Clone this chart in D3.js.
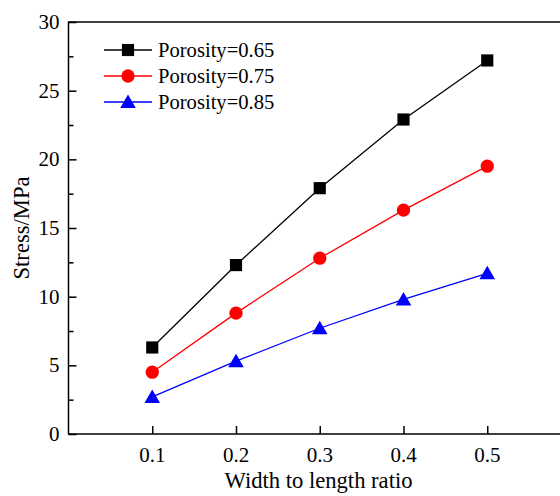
<!DOCTYPE html>
<html>
<head>
<meta charset="utf-8">
<script src="https://cdn.jsdelivr.net/npm/d3@7"></script>
<style>
  body { margin: 0; background: #fff; }
  svg { display: block; }
  text { font-family: "Liberation Serif", "Times New Roman", serif; fill: #000; }
</style>
</head>
<body>
<svg id="chart" width="560" height="496"></svg>
<script>
// Stress vs width-to-length ratio

var ratios = [0.1, 0.2, 0.3, 0.4, 0.5];
var stress065 = [6.3, 12.3, 17.9, 22.9, 27.2];
var stress075 = [4.5, 8.8, 12.8, 16.3, 19.5];
var stress085 = [2.7, 5.3, 7.7, 9.8, 11.7];
var seriesNames = ["Porosity=0.65", "Porosity=0.75", "Porosity=0.85"];
var yTicks = [0, 5, 10, 15, 20, 25, 30];
var yMinorTicks = [2.5, 7.5, 12.5, 17.5, 22.5, 27.5];

var series = [
  { name: seriesNames[0], values: stress065, color: "#000000", shape: d3.symbolSquare, size: 148, dy: 0 },
  { name: seriesNames[1], values: stress075, color: "#ff0000", shape: d3.symbolCircle, size: 138, dy: 0 },
  { name: seriesNames[2], values: stress085, color: "#0000ff", shape: d3.symbolTriangle, size: 105, dy: 1.5 }
];

var svg = d3.select("#chart");

var x = d3.scaleLinear().domain([0, 0.6]).range([68.5, 571]);
var y = d3.scaleLinear().domain([0, 30]).range([434, 22]);

// frame (right side runs off the canvas)
svg.append("rect")
  .attr("x", x(0)).attr("y", y(30))
  .attr("width", x(0.6) - x(0)).attr("height", y(0) - y(30))
  .attr("fill", "none").attr("stroke", "#000").attr("stroke-width", 1.5);

// y axis, ticks pointing inward
var yAxis = svg.append("g")
  .attr("transform", "translate(" + x(0) + ",0)")
  .call(d3.axisRight(y).tickValues(yTicks).tickSize(8).tickFormat(""));
yAxis.select(".domain").remove();
yAxis.selectAll("line").attr("stroke-width", 1.5);

var yMinor = svg.append("g")
  .attr("transform", "translate(" + x(0) + ",0)")
  .call(d3.axisRight(y).tickValues(yMinorTicks).tickSize(5).tickFormat(""));
yMinor.select(".domain").remove();
yMinor.selectAll("line").attr("stroke-width", 1.5);

svg.append("g").selectAll("text")
  .data(yTicks)
  .enter().append("text")
  .attr("x", x(0) - 9)
  .attr("y", function (d) { return y(d) + 7; })
  .attr("text-anchor", "end")
  .attr("font-size", 21)
  .text(function (d) { return d; });

// x axis, ticks pointing inward
var xAxis = svg.append("g")
  .attr("transform", "translate(0," + y(0) + ")")
  .call(d3.axisTop(x).tickValues(ratios).tickSize(8).tickFormat(""));
xAxis.select(".domain").remove();
xAxis.selectAll("line").attr("stroke-width", 1.5);

svg.append("g").selectAll("text")
  .data(ratios)
  .enter().append("text")
  .attr("x", function (d) { return x(d); })
  .attr("y", y(0) + 28)
  .attr("text-anchor", "middle")
  .attr("font-size", 21)
  .text(function (d) { return d.toFixed(1); });

// axis titles
svg.append("text")
  .attr("x", 318.5).attr("y", 488)
  .attr("text-anchor", "middle")
  .attr("font-size", 22.6)
  .text("Width to length ratio");

svg.append("text")
  .attr("transform", "translate(29," + y(15) + ") rotate(-90)")
  .attr("text-anchor", "middle")
  .attr("font-size", 22.6)
  .text("Stress/MPa");

// lines and markers
var line = d3.line()
  .x(function (d, i) { return x(ratios[i]); })
  .y(function (d) { return y(d); });

series.forEach(function (s) {
  svg.append("path")
    .datum(s.values)
    .attr("d", line)
    .attr("fill", "none")
    .attr("stroke", s.color)
    .attr("stroke-width", 1.3);

  svg.append("g").selectAll("path")
    .data(s.values)
    .enter().append("path")
    .attr("transform", function (d, i) {
      return "translate(" + x(ratios[i]) + "," + (y(d) + s.dy) + ")";
    })
    .attr("d", d3.symbol().type(s.shape).size(s.size))
    .attr("fill", s.color);
});

// legend
var legend = svg.append("g");
series.forEach(function (s, k) {
  var ly = 50 + k * 26;
  legend.append("line")
    .attr("x1", 104).attr("x2", 152)
    .attr("y1", ly).attr("y2", ly)
    .attr("stroke", s.color).attr("stroke-width", 1.3);
  legend.append("path")
    .attr("transform", "translate(128," + (ly + s.dy) + ")")
    .attr("d", d3.symbol().type(s.shape).size(s.size))
    .attr("fill", s.color);
  legend.append("text")
    .attr("x", 158).attr("y", ly + 7)
    .attr("font-size", 20.6)
    .text(s.name);
});
</script>
</body>
</html>
